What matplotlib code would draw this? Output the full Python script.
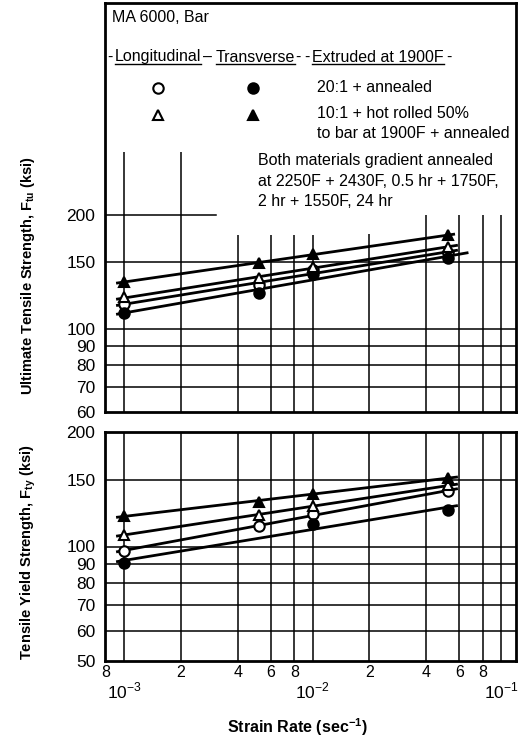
import numpy as np
import matplotlib.pyplot as plt
from matplotlib.lines import Line2D
from matplotlib.ticker import NullLocator

plt.rcParams['font.family'] = ['Liberation Sans Narrow', 'Liberation Sans', 'DejaVu Sans']
plt.rcParams['mathtext.fontset'] = 'custom'
plt.rcParams['mathtext.rm'] = 'Liberation Sans'
plt.rcParams['mathtext.bf'] = 'Liberation Sans:bold'

strain_rate = [1e-3, 5.2e-3, 1e-2, 5.2e-2]

# ultimate tensile strength (ksi)
ftu_long_20 = [116, 131, 143, 159]
ftu_trans_20 = [110, 124, 140, 154]
ftu_long_10 = [121, 136, 146, 165]
ftu_trans_10 = [133, 149.6, 158, 177]

# tensile yield strength (ksi)
fty_long_20 = [97.5, 113, 122, 139.7]
fty_trans_20 = [90.7, np.nan, 114.5, 124.5]
fty_long_10 = [107.5, 121, 127.6, 144.8]
fty_trans_10 = [120.5, 131, 137.6, 151.6]

ftu_ticks = [60, 70, 80, 90, 100, 150, 200]
fty_ticks = [50, 60, 70, 80, 90, 100, 150, 200]
grid_x = [1e-3, 2e-3, 4e-3, 6e-3, 8e-3, 1e-2, 2e-2, 4e-2, 6e-2, 8e-2, 1e-1]
minor_x = [8e-4, 2e-3, 4e-3, 6e-3, 8e-3, 2e-2, 4e-2, 6e-2, 8e-2]
minor_lbl = ['8', '2', '4', '6', '8', '2', '4', '6', '8']
major_x = [1e-3, 1e-2, 1e-1]
major_lbl = ['$10^{-3}$', '$10^{-2}$', '$10^{-1}$']

W, H = 525, 742


def fx(px):
    return px / W


def fy(py):
    return 1 - py / H


fig = plt.figure(figsize=(W / 100, H / 100), dpi=100)
ax1 = fig.add_axes([fx(105), fy(412), fx(516) - fx(105), fy(3) - fy(412)])
ax2 = fig.add_axes([fx(105), fy(661), fx(516) - fx(105), fy(432) - fy(661)])

XLIM = (7.9e-4, 0.12)
GRID_KW = dict(color='black', lw=1.1, zorder=1)


def fit_line(ax, x, y, x_end, marker, filled):
    x = np.asarray(x, float)
    y = np.asarray(y, float)
    ok = ~np.isnan(y)
    coef = np.polyfit(np.log10(x[ok]), np.log10(y[ok]), 1)
    xx = np.array([9.2e-4, x_end])
    ax.plot(xx, 10 ** np.polyval(coef, np.log10(xx)), color='black', lw=2.0, zorder=3)
    ax.plot(x[ok], y[ok], ls='none', marker=marker, ms=7.5, mew=1.5,
            mec='black', mfc='black' if filled else 'white', zorder=4)


def style_axes(ax, ylim, yticks):
    ax.set_xscale('log')
    ax.set_yscale('log')
    ax.set_xlim(*XLIM)
    ax.set_ylim(*ylim)
    ax.set_yticks(yticks)
    ax.set_yticklabels([str(t) for t in yticks])
    ax.yaxis.set_minor_locator(NullLocator())
    ax.tick_params(axis='both', which='both', length=0, labelsize=12.5)
    ax.tick_params(axis='y', pad=7)
    for s in ax.spines.values():
        s.set_linewidth(2.0)


# upper panel: ultimate tensile strength
style_axes(ax1, (60, 735), ftu_ticks)
ax1.set_xticks([])
ax1.xaxis.set_minor_locator(NullLocator())
for v in [70, 80, 90, 100, 150]:
    ax1.axhline(v, **GRID_KW)
ax1.axhline(200, xmax=0.27, **GRID_KW)
grid_top = [295, 295, 177, 177, 177, 177, 179, 200, 200, 200, 200]
for gx, gt in zip(grid_x, grid_top):
    ax1.vlines(gx, 60, gt, **GRID_KW)

fit_line(ax1, strain_rate, ftu_long_20, 5.8e-2, 'o', False)
fit_line(ax1, strain_rate, ftu_trans_20, 6.6e-2, 'o', True)
fit_line(ax1, strain_rate, ftu_long_10, 5.8e-2, '^', False)
fit_line(ax1, strain_rate, ftu_trans_10, 5.6e-2, '^', True)

# lower panel: tensile yield strength
style_axes(ax2, (50, 200), fty_ticks)
for v in [60, 70, 80, 90, 100, 150]:
    ax2.axhline(v, **GRID_KW)
for gx in grid_x:
    ax2.axvline(gx, **GRID_KW)

fit_line(ax2, strain_rate, fty_long_20, 5.8e-2, 'o', False)
fit_line(ax2, strain_rate, fty_trans_20, 5.8e-2, 'o', True)
fit_line(ax2, strain_rate, fty_long_10, 5.8e-2, '^', False)
fit_line(ax2, strain_rate, fty_trans_10, 5.8e-2, '^', True)

ax2.set_xticks(major_x)
ax2.set_xticklabels(major_lbl)
ax2.set_xticks(minor_x, minor=True)
ax2.set_xticklabels(minor_lbl, minor=True)
ax2.tick_params(axis='x', which='major', pad=14, labelsize=12.5)
ax2.tick_params(axis='x', which='minor', pad=3, labelsize=11.5)

# axis titles
fig.text(fx(28), fy(275), r'Ultimate Tensile Strength, F$_{\mathbf{tu}}$ (ksi)',
         rotation=90, ha='center', va='center', fontsize=10.5, fontweight='bold')
fig.text(fx(28), fy(552), r'Tensile Yield Strength, F$_{\mathbf{ty}}$ (ksi)',
         rotation=90, ha='center', va='center', fontsize=10.5, fontweight='bold')
fig.text(fx(297), fy(727), r'Strain Rate (sec$^{\mathbf{-1}}$)',
         ha='center', va='center', fontsize=11.5, fontweight='bold')

# key inside the upper frame
TXT = dict(fontsize=11.5, va='center', ha='left')
fig.text(fx(112), fy(18), 'MA 6000, Bar', **TXT)

heads = [(115, 'Longitudinal'), (216, 'Transverse'), (312, 'Extruded at 1900F')]
head_texts = [fig.text(fx(x), fy(57), s, **TXT) for x, s in heads]
for x, s in [(107, '-'), (203, '–'), (295, '-'), (304, '-'), (446, '-')]:
    fig.text(fx(x), fy(57), s, **TXT)

fig.canvas.draw()
for t in head_texts:
    bb = t.get_window_extent()
    fig.add_artist(Line2D([bb.x0 / W, bb.x1 / W], [fy(64), fy(64)], color='black', lw=1.0))

key = [(158, 88, 'o', False), (253, 88, 'o', True), (158, 115, '^', False), (253, 115, '^', True)]
for x, y, m, filled in key:
    fig.add_artist(Line2D([fx(x)], [fy(y)], marker=m, ms=7.5, mew=1.5, mec='black',
                          mfc='black' if filled else 'white', ls='none'))

fig.text(fx(317), fy(88), '20:1 + annealed', **TXT)
fig.text(fx(317), fy(113), '10:1 + hot rolled 50%', **TXT)
fig.text(fx(317), fy(133), 'to bar at 1900F + annealed', **TXT)
fig.text(fx(258), fy(160), 'Both materials gradient annealed', **TXT)
fig.text(fx(258), fy(181), 'at 2250F + 2430F, 0.5 hr + 1750F,', **TXT)
fig.text(fx(258), fy(202), '2 hr + 1550F, 24 hr', **TXT)

fig.savefig('out.png', dpi=100)
